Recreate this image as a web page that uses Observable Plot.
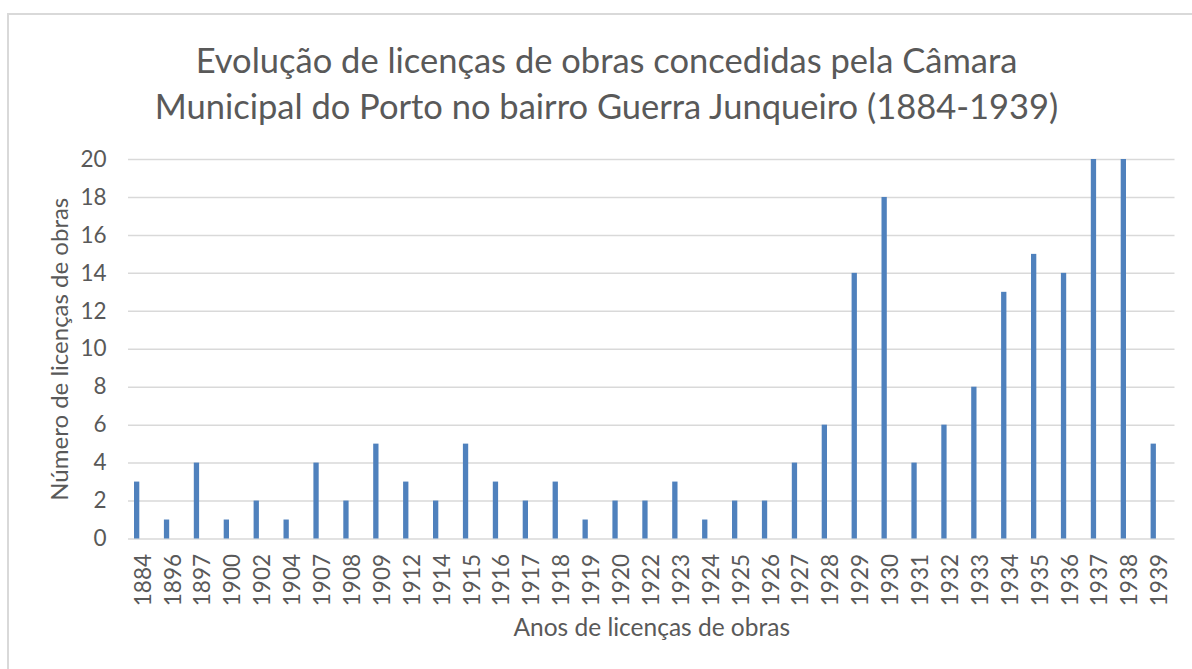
<!DOCTYPE html>
<html><head><meta charset="utf-8">
<script src="https://cdn.jsdelivr.net/npm/d3@7"></script>
<script src="https://cdn.jsdelivr.net/npm/@observablehq/plot@0.6"></script>
<style>
body{margin:0;background:#fff;}
#chart{position:relative;width:1192px;height:669px;overflow:hidden;font-family:Lato,sans-serif;color:#595959;}
#frame{position:absolute;left:7px;top:13px;width:1300px;height:800px;border-top:2px solid #d9d9d9;border-left:2px solid #d9d9d9;}
#title{position:absolute;left:0;top:37px;width:1213px;text-align:center;font-size:34.5px;line-height:46px;white-space:nowrap;}
#plot{position:absolute;left:0;top:120px;}
</style></head><body>
<div id="chart"><div id="frame"></div>
<div id="title">Evolução de licenças de obras concedidas pela Câmara<br>Municipal do Porto no bairro Guerra Junqueiro (1884-1939)</div>
<div id="plot"></div></div>
<script>
const years = ["1884","1896","1897","1900","1902","1904","1907","1908","1909","1912","1914","1915","1916","1917","1918","1919","1920","1922","1923","1924","1925","1926","1927","1928","1929","1930","1931","1932","1933","1934","1935","1936","1937","1938","1939"];
const licencas = [3,1,4,1,2,1,4,2,5,3,2,5,3,2,3,1,2,2,3,1,2,2,4,6,14,18,4,6,8,13,15,14,20,20,5];
const yTicks = [0,2,4,6,8,10,12,14,16,18,20];
const xTitle = "Anos de licenças de obras";
const yTitle = "Número de licenças de obras";

const data = years.map((y, i) => ({year: y, value: licencas[i]}));

const chart = Plot.plot({
  width: 1192, height: 549,
  marginTop: 39, marginBottom: 130.5, marginLeft: 128, marginRight: 17.5,
  style: {fontFamily: "Lato, sans-serif", fontSize: "22.5px", color: "#595959", background: "transparent", overflow: "visible"},
  x: {type: "band", domain: years, padding: 0},
  y: {domain: [0, 20]},
  marks: [
    Plot.gridY(yTicks, {stroke: "#d9d9d9", strokeOpacity: 1, strokeWidth: 1.5}),
    Plot.barY(data, {x: "year", y: "value", fill: "#4f81bd", insetLeft: 6, insetRight: 18.6}),
    Plot.axisX({tickSize: 0, tickPadding: 15, tickRotate: -90, label: null, fill: "#595959"}),
    Plot.axisY(yTicks, {tickSize: 0, tickPadding: 22, label: null, fill: "#595959"}),
    Plot.text([xTitle], {frameAnchor: "bottom", dy: 89, lineAnchor: "middle", textAnchor: "middle", fontSize: 24.5, fill: "#595959"}),
    Plot.text([yTitle], {frameAnchor: "left", dx: -68, rotate: -90, lineAnchor: "middle", textAnchor: "middle", fontSize: 24, fill: "#595959"})
  ]
});
document.getElementById("plot").appendChild(chart);
</script>
</body></html>
